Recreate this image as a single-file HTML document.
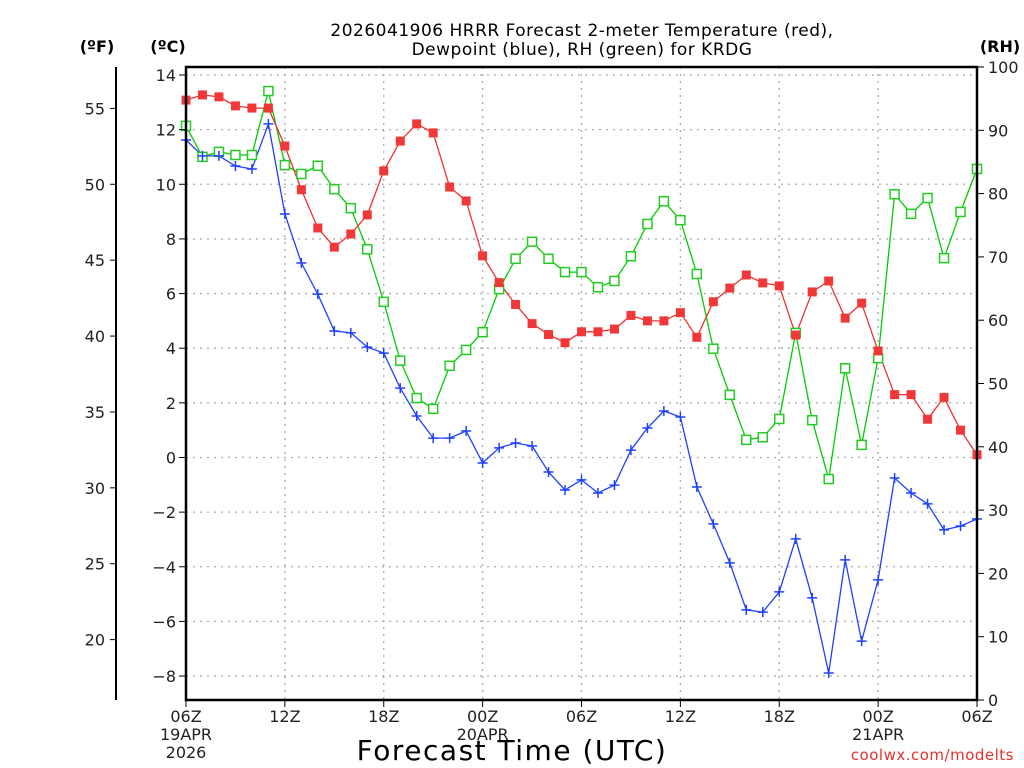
<!DOCTYPE html>
<html><head><meta charset="utf-8"><style>
html,body{margin:0;padding:0;background:#fff;}
svg{display:block;font-family:"DejaVu Sans","Liberation Sans",sans-serif;}
</style></head><body>
<svg id="chart" width="1024" height="768" viewBox="0 0 1024 768" xmlns="http://www.w3.org/2000/svg">
<rect x="0" y="0" width="1024" height="768" fill="#fff"/>
<g id="grid"></g>
<g id="series"></g>
<g id="axes"></g>
<text x="582" y="36" text-anchor="middle" font-size="17" fill="#000" letter-spacing="0.5">2026041906 HRRR Forecast 2-meter Temperature (red),</text>
<text x="582" y="55" text-anchor="middle" font-size="17" fill="#000" letter-spacing="0.5">Dewpoint (blue), RH (green) for KRDG</text>
<text x="97" y="52" text-anchor="middle" font-size="16" font-weight="bold">(ºF)</text>
<text x="168" y="52" text-anchor="middle" font-size="16" font-weight="bold">(ºC)</text>
<text x="1000" y="52" text-anchor="middle" font-size="16" font-weight="bold">(RH)</text>
<text x="512" y="760" text-anchor="middle" font-size="28" letter-spacing="1.5">Forecast Time (UTC)</text>
<text x="1014" y="760" text-anchor="end" font-size="15" fill="#e03030" letter-spacing="0.5">coolwx.com/modelts</text>
</svg>
<script>
const hours = [0,1,2,3,4,5,6,7,8,9,10,11,12,13,14,15,16,17,18,19,20,21,22,23,24,25,26,27,28,29,30,31,32,33,34,35,36,37,38,39,40,41,42,43,44,45,46,47,48];
const temperatureC = [13.08,13.27,13.2,12.87,12.79,12.79,11.4,9.8,8.4,7.7,8.18,8.88,10.49,11.58,12.21,11.88,9.9,9.39,7.38,6.4,5.6,4.9,4.5,4.2,4.6,4.6,4.7,5.2,5.0,5.0,5.3,4.4,5.7,6.2,6.68,6.39,6.28,4.48,6.06,6.46,5.1,5.65,3.9,2.3,2.3,1.4,2.2,1.0,0.1];
const dewpointC = [11.62,11.04,11.04,10.67,10.56,12.21,8.91,7.12,5.98,4.63,4.56,4.04,3.82,2.54,1.52,0.71,0.71,0.97,-0.2,0.35,0.53,0.42,-0.53,-1.19,-0.82,-1.3,-1.01,0.27,1.08,1.7,1.48,-1.08,-2.43,-3.86,-5.58,-5.66,-4.92,-2.98,-5.14,-7.89,-3.75,-6.72,-4.48,-0.75,-1.3,-1.7,-2.65,-2.51,-2.25];
const relHumidity = [90.7,85.8,86.6,86.1,86.1,96.2,84.5,83.1,84.4,80.7,77.7,71.2,62.9,53.6,47.7,46.0,52.8,55.3,58.1,64.9,69.7,72.4,69.7,67.6,67.6,65.2,66.2,70.1,75.2,78.8,75.8,67.3,55.5,48.2,41.1,41.5,44.4,58.0,44.2,34.9,52.4,40.3,54.0,79.9,76.8,79.3,69.8,77.1,83.9];
const celsiusTicks = [14,12,10,8,6,4,2,0,-2,-4,-6,-8];
const fahrenheitTicks = [55,50,45,40,35,30,25,20];
const rhTicks = [100,90,80,70,60,50,40,30,20,10,0];
const xTickHours = [0,6,12,18,24,30,36,42,48];
const xTickLabels = ["06Z","12Z","18Z","00Z","06Z","12Z","18Z","00Z","06Z"];
const xTickDates = ["19APR","","","20APR","","","","21APR",""];

const NS="http://www.w3.org/2000/svg";
const L=186,R=977,T=67,B=700;
const xS=h=>L+(R-L)*h/48;
const yC=c=>75+(14-c)*27.32;
const yF=f=>yC((f-32)*5/9);
const yRH=r=>B-(B-T)*r/100;
function mk(tag,attrs,parent){const e=document.createElementNS(NS,tag);for(const k in attrs)e.setAttribute(k,attrs[k]);parent.appendChild(e);return e;}
const grid=document.getElementById('grid'),axes=document.getElementById('axes'),series=document.getElementById('series');

celsiusTicks.forEach(c=>{
  const y=yC(c);
  const g=mk('line',{x1:L,x2:R,y1:y,y2:y,stroke:'#aaa','stroke-width':1.3,'stroke-dasharray':'2,5'},grid);
  
  
  const t=mk('line',{x1:L-7,x2:L,y1:y,y2:y,stroke:'#000','stroke-width':1},axes);
  
  
  const lb=mk('text',{x:L-10,y:y+6,'text-anchor':'end','font-size':16,fill:'#222'},axes);
  lb.textContent=(c<0?'\u2212'+(-c):String(c));
  
  
});
xTickHours.forEach((h,i)=>{
  const x=xS(h);
  if(h>0&&h<48){
    const g=mk('line',{x1:x,x2:x,y1:T,y2:B,stroke:'#aaa','stroke-width':1.3,'stroke-dasharray':'2,5'},grid);
    
    
  }
  const t=mk('line',{x1:x,x2:x,y1:B,y2:B+7,stroke:'#000','stroke-width':1},axes);
  
  
  const lb=mk('text',{x:x,y:B+22,'text-anchor':'middle','font-size':16,fill:'#222'},axes);
  lb.textContent=xTickLabels[i];
  
  
  if(xTickDates[i]){
    const d=mk('text',{x:x,y:B+40,'text-anchor':'middle','font-size':16,fill:'#222'},axes);
    d.textContent=xTickDates[i];
    
    
  }
});
const yr=mk('text',{x:xS(0),y:B+58,'text-anchor':'middle','font-size':16,fill:'#222'},axes);
yr.textContent='2026';



const fl=mk('line',{x1:116,x2:116,y1:T,y2:B,stroke:'#000','stroke-width':2},axes);


fahrenheitTicks.forEach(f=>{
  const y=yF(f);
  const t=mk('line',{x1:110,x2:116,y1:y,y2:y,stroke:'#000','stroke-width':1},axes);
  
  
  const lb=mk('text',{x:105,y:y+6,'text-anchor':'end','font-size':16,fill:'#222'},axes);
  lb.textContent=String(f);
  
  
});
rhTicks.forEach(r=>{
  const y=yRH(r);
  const t=mk('line',{x1:R,x2:R+7,y1:y,y2:y,stroke:'#000','stroke-width':1},axes);
  
  
  const lb=mk('text',{x:R+11,y:y+6,'text-anchor':'start','font-size':16,fill:'#222'},axes);
  lb.textContent=String(r);
  
  
});
const box=mk('path',{d:`M${L},${T} H${R} V${B} H${L} Z`,fill:'none',stroke:'#000','stroke-width':2.5},axes);



function line(vals,yf,color,name){
  const d=vals.map((v,i)=>(i?'L':'M')+xS(hours[i]).toFixed(1)+','+yf(v).toFixed(1)).join(' ');
  const p=mk('path',{d:d,fill:'none',stroke:color,'stroke-width':1.3},series);
  
  
}
line(relHumidity,yRH,'#00cc00','rh');
line(dewpointC,yC,'#2040ff','dewpoint');
line(temperatureC,yC,'#f03030','temperature');
relHumidity.forEach((v,i)=>{
  const m=mk('rect',{x:xS(hours[i])-4.5,y:yRH(v)-4.5,width:9,height:9,fill:'#fff',stroke:'#22cc22','stroke-width':1.5},series);
  
  
});
dewpointC.forEach((v,i)=>{
  const x=xS(hours[i]),y=yC(v);
  const m=mk('path',{d:`M${x-5},${y} H${x+5} M${x},${y-5} V${y+5}`,stroke:'#2040ff','stroke-width':1.5},series);
  
  
});
temperatureC.forEach((v,i)=>{
  const m=mk('rect',{x:xS(hours[i])-4.5,y:yC(v)-4.5,width:9,height:9,fill:'#f03838'},series);
  
  
});
</script>
</body></html>
